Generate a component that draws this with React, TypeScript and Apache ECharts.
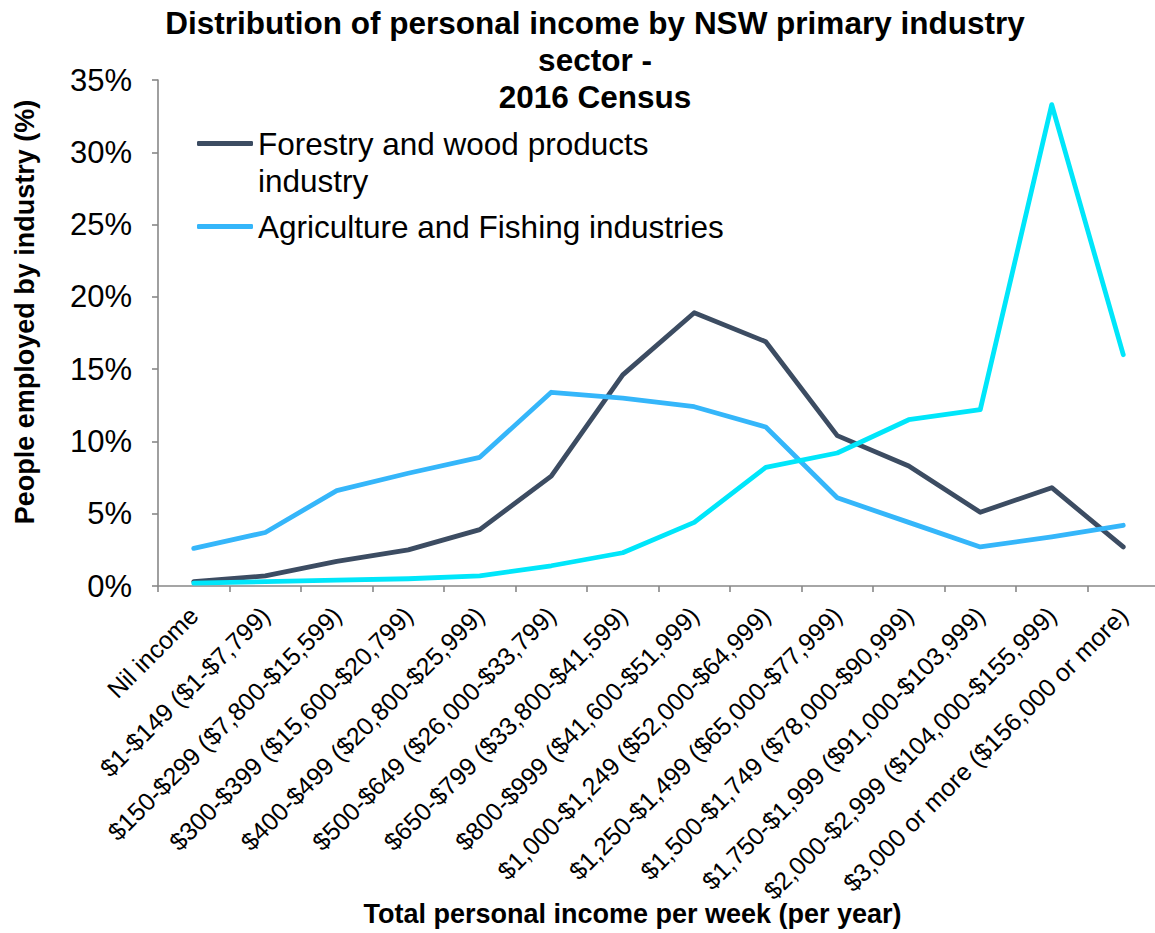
import React, { useEffect, useRef } from "react";
import * as echarts from "echarts";

const categories = [
  "Nil income",
  "$1-$149 ($1-$7,799)",
  "$150-$299 ($7,800-$15,599)",
  "$300-$399 ($15,600-$20,799)",
  "$400-$499 ($20,800-$25,999)",
  "$500-$649 ($26,000-$33,799)",
  "$650-$799 ($33,800-$41,599)",
  "$800-$999 ($41,600-$51,999)",
  "$1,000-$1,249 ($52,000-$64,999)",
  "$1,250-$1,499 ($65,000-$77,999)",
  "$1,500-$1,749 ($78,000-$90,999)",
  "$1,750-$1,999 ($91,000-$103,999)",
  "$2,000-$2,999 ($104,000-$155,999)",
  "$3,000 or more ($156,000 or more)",
];

const forestryName = "Forestry and wood products industry";
const agriName = "Agriculture and Fishing industries";
const thirdName = "Other industry";

const forestry = [0.3, 0.7, 1.7, 2.5, 3.9, 7.6, 14.6, 18.9, 16.9, 10.4, 8.3, 5.1, 6.8, 2.7];
const agriculture = [2.6, 3.7, 6.6, 7.8, 8.9, 13.4, 13.0, 12.4, 11.0, 6.1, 4.4, 2.7, 3.4, 4.2];
const thirdSeries = [0.2, 0.3, 0.4, 0.5, 0.7, 1.4, 2.3, 4.4, 8.2, 9.2, 11.5, 12.2, 33.3, 16.0];

const FONT = "'Liberation Sans', Arial, sans-serif";

export default function App() {
  const ref = useRef<HTMLDivElement>(null);

  useEffect(() => {
    if (!ref.current) return;
    const chart = echarts.init(ref.current, undefined, { renderer: "svg" });
    const lineSeries = (name: string, data: number[], color: string) => ({
      name,
      type: "line",
      data,
      symbol: "none",
      color,
      lineStyle: { color, width: 4.8, cap: "round", join: "round" },
      itemStyle: { color },
    });
    chart.setOption({
      animation: false,
      backgroundColor: "#ffffff",
      textStyle: { fontFamily: FONT },
      title: {
        text: "Distribution of personal income by NSW primary industry\nsector -\n2016 Census",
        left: 595,
        top: 4,
        padding: 0,
        textAlign: "center",
        textStyle: {
          fontFamily: FONT,
          fontSize: 31.5,
          fontWeight: "bold",
          color: "#000",
          lineHeight: 37,
        },
      },
      legend: {
        orient: "vertical",
        left: 197,
        top: 88,
        padding: 0,
        itemGap: 9,
        itemWidth: 56,
        itemHeight: 5,
        icon: "roundRect",
        formatter: (name: string) =>
          name === forestryName ? "\nForestry and wood products\nindustry" : name,
        textStyle: {
          fontFamily: FONT,
          fontSize: 31.5,
          color: "#000",
          lineHeight: 37,
        },
        data: [forestryName, agriName],
      },
      grid: {
        left: 158,
        top: 80,
        width: 1001,
        height: 506,
        containLabel: false,
        outerBoundsMode: "none",
      },
      xAxis: {
        type: "category",
        data: categories,
        boundaryGap: true,
        name: "Total personal income per week (per year)",
        nameLocation: "middle",
        nameGap: 313,
        nameMoveOverlap: false,
        nameTextStyle: {
          fontFamily: FONT,
          fontSize: 27,
          fontWeight: "bold",
          color: "#000",
          lineHeight: 30,
          padding: [0, 52, 0, 0],
        },
        axisLine: { lineStyle: { color: "#888888", width: 1.6 } },
        axisTick: { show: true, length: 6, lineStyle: { color: "#888888", width: 1.6 } },
        axisLabel: {
          interval: 0,
          rotate: 45,
          margin: 25,
          fontFamily: FONT,
          fontSize: 25,
          color: "#000",
        },
        splitLine: { show: false },
      },
      yAxis: {
        type: "value",
        min: 0,
        max: 35,
        interval: 5,
        name: "People employed by industry (%)",
        nameLocation: "middle",
        nameGap: 118,
        nameMoveOverlap: false,
        nameTextStyle: {
          fontFamily: FONT,
          fontSize: 27,
          fontWeight: "bold",
          color: "#000",
          lineHeight: 30,
          padding: [0, 0, 0, 42],
        },
        axisLine: { show: true, lineStyle: { color: "#888888", width: 1.6 } },
        axisTick: { show: true, length: 6, lineStyle: { color: "#888888", width: 1.6 } },
        axisLabel: {
          formatter: "{value}%",
          margin: 26,
          fontFamily: FONT,
          fontSize: 31,
          color: "#000",
        },
        splitLine: { show: false },
      },
      series: [
        lineSeries(forestryName, forestry, "#3C4C62"),
        lineSeries(agriName, agriculture, "#35B6FA"),
        lineSeries(thirdName, thirdSeries, "#00E6FA"),
      ],
    });
    return () => chart.dispose();
  }, []);

  return (
    <div
      ref={ref}
      style={{ position: "fixed", left: 0, top: 0, width: 1155, height: 933 }}
    />
  );
}
